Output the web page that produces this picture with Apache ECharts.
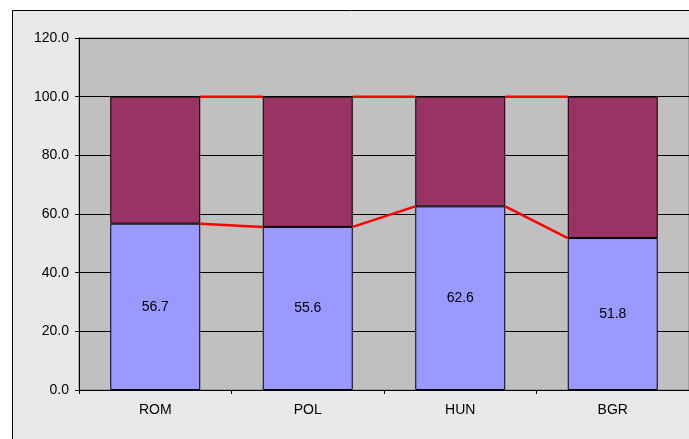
<!DOCTYPE html>
<html><head><meta charset="utf-8">
<script src="https://cdn.jsdelivr.net/npm/echarts@6/dist/echarts.min.js"></script>
<style>html,body{margin:0;padding:0;background:#fff}#c{width:689px;height:439px}</style>
</head><body><div id="c"></div>
<script>
const categories = ['ROM', 'POL', 'HUN', 'BGR'];
const lowerValues = [56.7, 55.6, 62.6, 51.8];
const upperValues = [43.3, 44.4, 37.4, 48.2];
const totals = lowerValues.map((v, i) => +(v + upperValues[i]).toFixed(1));

const BAR_RATIO = 0.59;
function connectorSeries(values) {
  return {
    type: 'custom',
    z: 5,
    silent: true,
    data: values.slice(0, -1).map((v, i) => [i, v, values[i + 1]]),
    renderItem: function (params, api) {
      const i = api.value(0);
      const band = api.size([1, 0])[0];
      const p1 = api.coord([i, api.value(1)]);
      const p2 = api.coord([i + 1, api.value(2)]);
      return {
        type: 'line',
        shape: { x1: p1[0] + band * BAR_RATIO / 2, y1: p1[1], x2: p2[0] - band * BAR_RATIO / 2, y2: p2[1] },
        style: { stroke: '#FF0000', lineWidth: 2.5 }
      };
    }
  };
}

const chart = echarts.init(document.getElementById('c'));
chart.setOption({
  animation: false,
  backgroundColor: '#ffffff',
  graphic: [{
    type: 'rect', z: -10,
    shape: { x: 12.5, y: 10.5, width: 700, height: 450 },
    style: { fill: '#e9e9e9', stroke: '#000', lineWidth: 1 }
  }],
  grid: { left: 79, top: 38, right: -1, bottom: 49, show: true, backgroundColor: '#C0C0C0', borderColor: '#808080', borderWidth: 1 },
  xAxis: {
    type: 'category', data: categories,
    axisLine: { lineStyle: { color: '#000', width: 1 } },
    axisTick: { show: true, length: 4, lineStyle: { color: '#000' } },
    axisLabel: { color: '#000', fontFamily: 'Liberation Sans, Arial', fontSize: 14, margin: 13 }
  },
  yAxis: {
    type: 'value', min: 0, max: 120, interval: 20,
    axisLine: { show: true, lineStyle: { color: '#000', width: 1 } },
    axisTick: { show: true, length: 4, lineStyle: { color: '#000' } },
    axisLabel: { color: '#000', fontFamily: 'Liberation Sans, Arial', fontSize: 14, margin: 10, formatter: v => v.toFixed(1) },
    splitLine: { lineStyle: { color: '#000', width: 1 } }
  },
  series: [
    {
      type: 'bar', stack: 's', data: lowerValues, barWidth: (BAR_RATIO * 100) + '%',
      itemStyle: { color: '#9999FF', borderColor: '#000', borderWidth: 1 },
      label: { show: true, position: 'inside', color: '#000', fontFamily: 'Liberation Sans, Arial', fontSize: 14, formatter: p => p.value.toFixed(1) }
    },
    {
      type: 'bar', stack: 's', data: upperValues,
      itemStyle: { color: '#993366', borderColor: '#000', borderWidth: 1 }
    },
    connectorSeries(lowerValues),
    connectorSeries(totals)
  ]
});
</script></body></html>
